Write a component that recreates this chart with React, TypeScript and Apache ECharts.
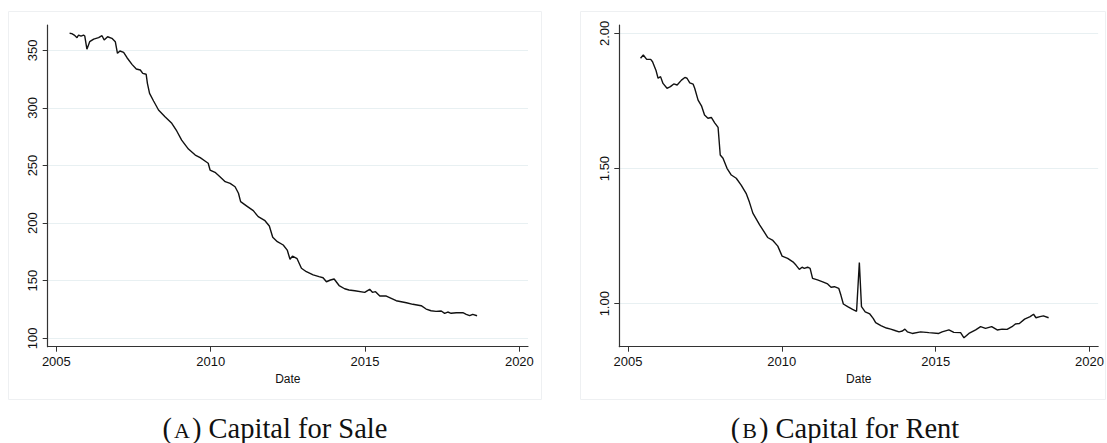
import React, { useEffect, useRef } from "react";
import * as echarts from "echarts";

const saleDates = [
  2005.43, 2005.5, 2005.58, 2005.67, 2005.72, 2005.8, 2005.88, 2005.92, 2005.99, 2006.08,
  2006.21, 2006.37, 2006.48, 2006.55, 2006.66, 2006.8, 2006.91, 2006.98, 2007.06, 2007.18,
  2007.29, 2007.45, 2007.59, 2007.72, 2007.8, 2007.91, 2007.95, 2008.02, 2008.15, 2008.31,
  2008.52, 2008.74, 2008.9, 2009.06, 2009.28, 2009.5, 2009.66, 2009.85, 2009.92, 2009.98,
  2010.14, 2010.3, 2010.47, 2010.63, 2010.79, 2010.9, 2010.97, 2011.17, 2011.38, 2011.54,
  2011.76, 2011.9, 2012.01, 2012.16, 2012.35, 2012.48, 2012.57, 2012.65, 2012.8, 2012.94,
  2013.1, 2013.32, 2013.51, 2013.64, 2013.75, 2013.88, 2014.0, 2014.16, 2014.34, 2014.48,
  2014.67, 2014.99, 2015.15, 2015.24, 2015.34, 2015.48, 2015.69, 2015.85, 2016.01, 2016.34,
  2016.55, 2016.82, 2016.98, 2017.14, 2017.3, 2017.47, 2017.58, 2017.68, 2017.79, 2017.96,
  2018.17, 2018.28, 2018.39, 2018.49, 2018.63,
];
const saleValues = [
  364.8, 364.5, 363.3, 361.0, 363.3, 362.4, 363.3, 362.5, 351.0, 357.5,
  359.8, 361.0, 362.7, 359.0, 361.8, 360.4, 357.5, 347.4, 349.4, 348.3,
  343.6, 337.8, 333.8, 332.9, 330.0, 329.2, 321.4, 312.7, 306.0, 298.2,
  292.4, 286.6, 280.0, 272.1, 264.3, 259.1, 256.8, 253.3, 252.0, 246.1,
  244.1, 240.3, 236.0, 234.5, 231.6, 225.9, 218.6, 214.8, 210.8, 205.6,
  202.1, 197.5, 187.7, 183.9, 181.0, 176.6, 168.6, 171.4, 169.1, 160.8,
  157.8, 155.0, 153.5, 152.6, 149.1, 150.6, 151.5, 145.8, 143.0, 141.9,
  141.3, 139.9, 142.5, 139.9, 140.5, 136.7, 136.7, 134.7, 132.6, 130.9,
  129.5, 128.3, 125.4, 123.9, 123.4, 123.7, 121.7, 122.8, 121.7, 122.2,
  122.2, 120.8, 119.6, 120.8, 119.6,
];

const rentDates = [
  2005.41, 2005.5, 2005.61, 2005.74, 2005.8, 2005.91, 2005.98, 2006.06, 2006.14, 2006.27,
  2006.38, 2006.49, 2006.6, 2006.74, 2006.85, 2006.92, 2007.01, 2007.12, 2007.17, 2007.28,
  2007.39, 2007.49, 2007.6, 2007.71, 2007.82, 2007.93, 2008.0, 2008.09, 2008.22, 2008.36,
  2008.52, 2008.68, 2008.85, 2008.95, 2009.06, 2009.28, 2009.38, 2009.54, 2009.71, 2009.87,
  2010.01, 2010.19, 2010.36, 2010.46, 2010.57, 2010.66, 2010.73, 2010.84, 2010.92, 2011.0,
  2011.16, 2011.33, 2011.49, 2011.6, 2011.71, 2011.85, 2011.92, 2012.0, 2012.14, 2012.3,
  2012.43, 2012.52, 2012.59, 2012.71, 2012.86, 2012.97, 2013.05, 2013.22, 2013.4, 2013.54,
  2013.7, 2013.81, 2013.92, 2014.0, 2014.08, 2014.24, 2014.51, 2014.78, 2015.1, 2015.21,
  2015.43, 2015.59, 2015.81, 2015.92, 2016.08, 2016.3, 2016.46, 2016.62, 2016.82, 2017.0,
  2017.16, 2017.32, 2017.48, 2017.59, 2017.72, 2017.89, 2018.07, 2018.18, 2018.26, 2018.39,
  2018.5, 2018.67,
];
const rentValues = [
  1.908, 1.92, 1.904, 1.904, 1.895, 1.864, 1.834, 1.84, 1.815, 1.797,
  1.803, 1.813, 1.809, 1.827, 1.837, 1.834, 1.817, 1.812, 1.797, 1.753,
  1.732, 1.698, 1.686, 1.689, 1.669, 1.652, 1.55, 1.538, 1.501, 1.476,
  1.464, 1.439, 1.406, 1.375, 1.335, 1.292, 1.274, 1.245, 1.234, 1.213,
  1.176, 1.168, 1.155, 1.143, 1.127, 1.135, 1.131, 1.135, 1.131, 1.094,
  1.088, 1.081, 1.073, 1.061, 1.063, 1.057, 1.032, 0.999, 0.989, 0.979,
  0.972, 1.152, 0.989, 0.97, 0.962, 0.946, 0.93, 0.919, 0.91, 0.906,
  0.9, 0.896, 0.899, 0.906, 0.896, 0.89, 0.896, 0.893, 0.89, 0.896,
  0.903, 0.894, 0.893, 0.874, 0.89, 0.903, 0.915, 0.909, 0.915, 0.903,
  0.906, 0.905, 0.915, 0.925, 0.927, 0.943, 0.952, 0.961, 0.948, 0.952,
  0.955, 0.948,
];

const yearTicks = [2005, 2010, 2015, 2020];
const saleTicks = [100, 150, 200, 250, 300, 350];
const rentTicks = [1.0, 1.5, 2.0];

const captionA = "(A) Capital for Sale";
const captionB = "(B) Capital for Rent";
const xName = "Date";

const gridColor = "#e8f0f2";
const axisColor = "#333333";
const labelColor = "#111111";
const sansFont = "'Liberation Sans', Arial, sans-serif";

function xAxisCfg(gridIndex: number) {
  return {
    type: "value" as const,
    gridIndex,
    min: 2004.72,
    max: 2020.28,
    name: xName,
    nameLocation: "middle" as const,
    nameGap: 24,
    nameTextStyle: { color: labelColor, fontSize: 12, fontFamily: sansFont },
    axisLine: { show: true, onZero: false, lineStyle: { color: axisColor, width: 1.2 } },
    axisTick: { show: true, length: 5, customValues: yearTicks, lineStyle: { color: axisColor } },
    axisLabel: {
      customValues: yearTicks,
      margin: 8,
      fontSize: 13,
      color: labelColor,
      fontFamily: sansFont,
      formatter: (v: number) => String(Math.round(v)),
    },
    splitLine: { show: false },
  };
}

function caption(text: string, cx: number) {
  const m = text.match(/^\((.)\)(.*)$/);
  const letter = m ? m[1] : "";
  const rest = m ? m[2] : text;
  return {
    type: "text",
    x: cx,
    y: 428,
    style: {
      text: "(" + "{sc|" + letter + "}" + ")" + rest,
      align: "center",
      verticalAlign: "middle",
      fontFamily: "'Liberation Serif', 'Times New Roman', serif",
      fontSize: 28.5,
      fill: "#111111",
      rich: {
        sc: { fontSize: 22, fontFamily: "'Liberation Serif', serif", fill: "#111111", padding: [4, 2, 0, 2] },
      },
    },
  };
}

export default function App() {
  const ref = useRef<HTMLDivElement>(null);

  useEffect(() => {
    if (!ref.current) return;
    const chart = echarts.init(ref.current, undefined, { renderer: "svg" });
    const saleData = saleDates.map((d, i) => [d, saleValues[i]]);
    const rentData = rentDates.map((d, i) => [d, rentValues[i]]);

    chart.setOption({
      animation: false,
      backgroundColor: "#ffffff",
      grid: [
        { left: 47.7, top: 25, width: 480.3, height: 321.7, containLabel: false },
        { left: 619.3, top: 25, width: 480.7, height: 321.7, containLabel: false },
      ],
      xAxis: [xAxisCfg(0), xAxisCfg(1)],
      yAxis: [
        {
          type: "value",
          gridIndex: 0,
          min: 92.7,
          max: 372,
          axisLine: { show: true, lineStyle: { color: axisColor, width: 1.2 } },
          axisTick: { show: true, length: 5, customValues: saleTicks, lineStyle: { color: axisColor } },
          axisLabel: {
            customValues: saleTicks,
            rotate: 90,
            margin: 9,
            fontSize: 13,
            color: labelColor,
            fontFamily: sansFont,
            formatter: (v: number) => String(Math.round(v)),
          },
          splitLine: { show: true, lineStyle: { color: gridColor, width: 1 } },
        },
        {
          type: "value",
          gridIndex: 1,
          min: 0.841,
          max: 2.031,
          axisLine: { show: true, lineStyle: { color: axisColor, width: 1.2 } },
          axisTick: { show: true, length: 5, customValues: rentTicks, lineStyle: { color: axisColor } },
          axisLabel: {
            customValues: rentTicks,
            rotate: 90,
            margin: 8,
            fontSize: 13,
            color: labelColor,
            fontFamily: sansFont,
            formatter: (v: number) => v.toFixed(2),
          },
          splitLine: { show: true, lineStyle: { color: gridColor, width: 1 } },
        },
      ],
      series: [
        {
          type: "line",
          xAxisIndex: 0,
          yAxisIndex: 0,
          data: saleData,
          showSymbol: false,
          lineStyle: { color: "#111111", width: 1.4 },
        },
        {
          type: "line",
          xAxisIndex: 1,
          yAxisIndex: 1,
          data: rentData,
          showSymbol: false,
          lineStyle: { color: "#111111", width: 1.4 },
        },
      ],
      graphic: [
        {
          type: "rect",
          shape: { x: 8.5, y: 11.5, width: 533, height: 388 },
          style: { fill: "none", stroke: "#eef0f2", lineWidth: 1 },
          silent: true,
          z: -10,
        },
        {
          type: "rect",
          shape: { x: 580.5, y: 11.5, width: 525, height: 388 },
          style: { fill: "none", stroke: "#eef0f2", lineWidth: 1 },
          silent: true,
          z: -10,
        },
        caption(captionA, 275),
        caption(captionB, 845),
      ],
    });

    return () => {
      chart.dispose();
    };
  }, []);

  return (
    <div
      ref={ref}
      style={{ position: "absolute", left: 0, top: 0, width: 1107, height: 443 }}
    />
  );
}
